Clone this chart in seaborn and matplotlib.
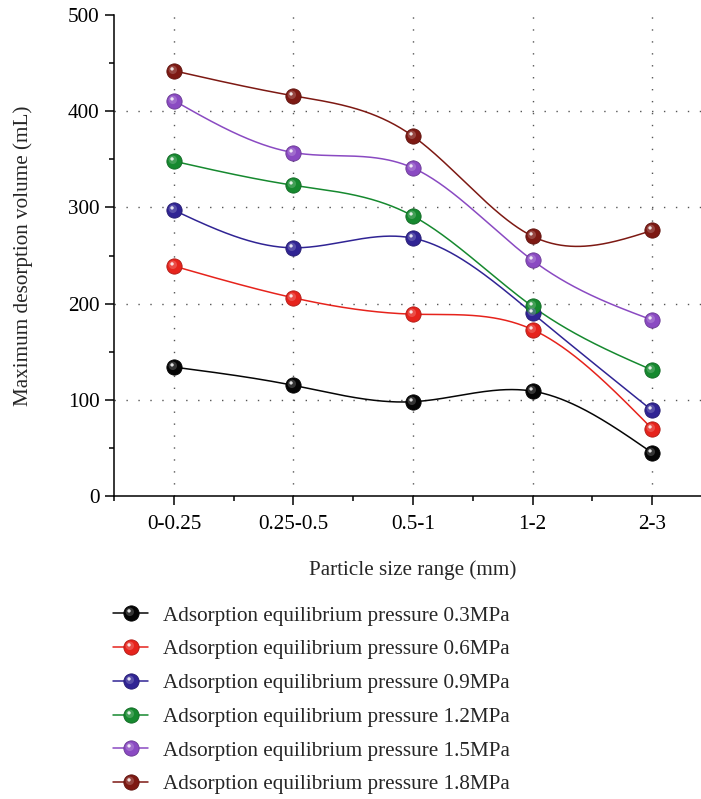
import numpy as np
import pandas as pd
import matplotlib
matplotlib.use("Agg")
import matplotlib.pyplot as plt
import matplotlib.colors as mcolors
from matplotlib.path import Path
from matplotlib.lines import Line2D
from matplotlib.legend_handler import HandlerTuple
from matplotlib.ticker import MultipleLocator
import seaborn as sns

# ---- data -------------------------------------------------------------
categories = ["0-0.25", "0.25-0.5", "0.5-1", "1-2", "2-3"]
pressures = ["0.3MPa", "0.6MPa", "0.9MPa", "1.2MPa", "1.5MPa", "1.8MPa"]
vol_03 = [134, 115, 98, 109, 45]
vol_06 = [239, 206, 189, 173, 70]
vol_09 = [297, 258, 268, 190, 89]
vol_12 = [348, 323, 291, 197, 131]
vol_15 = [411, 357, 341, 245, 183]
vol_18 = [442, 416, 374, 270, 276]
series = [vol_03, vol_06, vol_09, vol_12, vol_15, vol_18]
colors = ["#050505", "#e6231c", "#302494", "#16892f", "#8a4ac2", "#7d1913"]
y_ticks = [0, 100, 200, 300, 400, 500]

labels = [f"Adsorption equilibrium pressure {p}" for p in pressures]
palette = dict(zip(labels, colors))

pos = np.arange(len(categories), dtype=float)

points = pd.DataFrame(
    [(lab, i, v) for lab, vals in zip(labels, series) for i, v in enumerate(vals)],
    columns=["series", "pos", "volume"],
)


def natural_spline(x, y, xs):
    """Natural cubic spline through (x, y) evaluated at xs."""
    x = np.asarray(x, float)
    y = np.asarray(y, float)
    n = len(x)
    h = np.diff(x)
    A = np.zeros((n, n))
    r = np.zeros(n)
    A[0, 0] = A[-1, -1] = 1.0
    for i in range(1, n - 1):
        A[i, i - 1] = h[i - 1]
        A[i, i] = 2 * (h[i - 1] + h[i])
        A[i, i + 1] = h[i]
        r[i] = 6 * ((y[i + 1] - y[i]) / h[i] - (y[i] - y[i - 1]) / h[i - 1])
    M = np.linalg.solve(A, r)
    idx = np.clip(np.searchsorted(x, xs) - 1, 0, n - 2)
    x0, x1 = x[idx], x[idx + 1]
    hh = x1 - x0
    a = (x1 - xs) / hh
    b = (xs - x0) / hh
    return a * y[idx] + b * y[idx + 1] + ((a**3 - a) * M[idx] + (b**3 - b) * M[idx + 1]) * hh**2 / 6


xs = np.linspace(pos[0], pos[-1], 400)
curves = pd.concat(
    [pd.DataFrame({"series": lab, "pos": xs, "volume": natural_spline(pos, vals, xs)})
     for lab, vals in zip(labels, series)],
    ignore_index=True,
)


# ---- glossy ball markers ------------------------------------------------
def offset_circle_marker(cx, cy, r):
    circ = Path.unit_circle()
    verts = np.vstack([[[1.0, 1.0]], [[-1.0, -1.0]], circ.vertices * r + [cx, cy]])
    codes = [Path.MOVETO, Path.MOVETO] + list(circ.codes)
    return Path(verts, codes)


glow_marker = offset_circle_marker(-0.22, 0.22, 0.55)
spot_marker = offset_circle_marker(-0.32, 0.34, 0.22)


def lighten(c, amt):
    rgb = np.array(mcolors.to_rgb(c))
    return tuple(rgb + (1 - rgb) * amt)


def darken(c, amt):
    rgb = np.array(mcolors.to_rgb(c))
    return tuple(rgb * (1 - amt))


# ---- figure -------------------------------------------------------------
sns.set_style("ticks")
plt.rcParams["font.family"] = ["Liberation Serif", "DejaVu Serif"]

FS = 15.2
fig = plt.figure(figsize=(7.01, 7.99), dpi=100)
ax = fig.add_axes([114 / 701, 1 - 496 / 799, 1 - 114 / 701, (496 - 15) / 799])

# dotted reference grid
for yv in y_ticks[1:-1]:
    ax.axhline(yv, color="#555555", lw=1.0, ls=(0, (1, 7.6)), zorder=1)
for xv in pos:
    ax.axvline(xv, color="#555555", lw=1.0, ls=(0, (1, 7.6)), zorder=1)

sns.lineplot(data=curves, x="pos", y="volume", hue="series", palette=palette,
             sort=False, estimator=None, lw=1.1, legend=False, ax=ax, zorder=2)

ms = 11
for lab, col in zip(labels, colors):
    sub = points[points["series"] == lab]
    ax.plot(sub["pos"], sub["volume"], ls="none", marker="o", ms=ms,
            mfc=col, mec=darken(col, 0.25), mew=0.6, zorder=3)
    ax.plot(sub["pos"], sub["volume"], ls="none", marker=glow_marker, ms=ms,
            mfc=lighten(col, 0.35), mec="none", alpha=0.55, zorder=4)
    ax.plot(sub["pos"], sub["volume"], ls="none", marker=spot_marker, ms=ms,
            mfc="white", mec="none", alpha=0.85, zorder=5)

ax.set_xlim(-0.502, 4.41)
ax.set_ylim(0, 500)
ax.set_xticks(pos)
ax.set_xticklabels(categories)
ax.xaxis.set_minor_locator(MultipleLocator(0.5))
ax.set_yticks(y_ticks)
ax.yaxis.set_minor_locator(MultipleLocator(50))

for side in ("top", "right"):
    ax.spines[side].set_visible(False)
for side in ("left", "bottom"):
    ax.spines[side].set_linewidth(1.1)
    ax.spines[side].set_color("black")

ax.tick_params(which="major", direction="out", length=6.5, width=1.1,
               labelsize=FS, colors="black", pad=4)
ax.tick_params(axis="x", which="major", pad=7)
ax.tick_params(which="minor", direction="out", length=3.3, width=1.1, colors="black")

ax.set_xlabel("Particle size range (mm)", fontsize=FS)
ax.set_ylabel("Maximum desorption volume (mL)", fontsize=FS)
ax.xaxis.set_label_coords((413 - 114) / (701 - 114), -(560 - 496) / (496 - 15))
ax.yaxis.set_label_coords(-(114 - 33) / (701 - 114), (496 - 256) / (496 - 15))

# legend with glossy handles
handles = []
for col in colors:
    base = Line2D([], [], color=col, lw=1.1, marker="o", ms=ms,
                  mfc=col, mec=darken(col, 0.25), mew=0.6)
    glow = Line2D([], [], ls="none", marker=glow_marker, ms=ms,
                  mfc=lighten(col, 0.35), mec="none", alpha=0.55)
    spot = Line2D([], [], ls="none", marker=spot_marker, ms=ms,
                  mfc="white", mec="none", alpha=0.85)
    handles.append((base, glow, spot))

fig.legend(handles, labels, handler_map={tuple: HandlerTuple(ndivide=1, pad=0)},
           loc="upper left", bbox_to_anchor=(113 / 701, 1 - 606 / 799),
           frameon=False, fontsize=FS, handlelength=1.66, handletextpad=0.71,
           labelspacing=0.66, borderpad=0, borderaxespad=0)

fig.savefig("out.png", dpi=100)
